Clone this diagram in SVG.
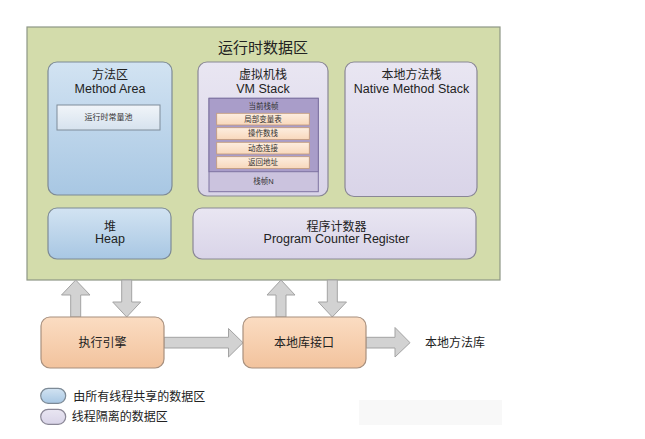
<svg xmlns="http://www.w3.org/2000/svg" width="645" height="439" viewBox="0 0 645 439">
<defs>
<linearGradient id="gBlue" x1="0" y1="0" x2="0" y2="1"><stop offset="0" stop-color="#d2e3f2"/><stop offset="1" stop-color="#a8c7e3"/></linearGradient>
<linearGradient id="gPurple" x1="0" y1="0" x2="0" y2="1"><stop offset="0" stop-color="#e9e6f2"/><stop offset="1" stop-color="#d9d4e8"/></linearGradient>
<linearGradient id="gOrange" x1="0" y1="0" x2="0" y2="1"><stop offset="0" stop-color="#fbdcc2"/><stop offset="1" stop-color="#f2c39d"/></linearGradient>
<linearGradient id="gPool" x1="0" y1="0" x2="0" y2="1"><stop offset="0" stop-color="#f1f5f9"/><stop offset="1" stop-color="#d6e2ee"/></linearGradient>
<linearGradient id="gRow" x1="0" y1="0" x2="0" y2="1"><stop offset="0" stop-color="#fdeee0"/><stop offset="1" stop-color="#f8d8bc"/></linearGradient>
</defs>
<style>
text{font-family:"Liberation Sans","Noto Sans CJK SC",sans-serif;fill:#222;text-anchor:middle}
.cn{font-size:12px;dominant-baseline:central}
.en{font-size:12.5px}
.title{font-size:15px;dominant-baseline:central}
.sm{font-size:7.5px;fill:#333;dominant-baseline:central}
.blue{fill:url(#gBlue);stroke:#7d8a96;stroke-width:1.2}
.purple{fill:url(#gPurple);stroke:#8a8796;stroke-width:1.2}
.orange{fill:url(#gOrange);stroke:#a8907e;stroke-width:1.2}
.arrow{fill:#d2d2d2;stroke:#a3a3a3;stroke-width:1}
.row{fill:url(#gRow);stroke:#c49a78;stroke-width:0.8}
.lg{font-size:12px;text-anchor:start;dominant-baseline:central}
</style>
<rect x="0" y="0" width="645" height="439" fill="#ffffff"/>
<g id="runtime-data-area">
<rect x="27" y="27" width="473" height="253" fill="#d3dcab" stroke="#8e9786" stroke-width="1.2"/>
<text class="title" x="263" y="47">运行时数据区</text>
</g>
<g id="connectors">
<polygon class="arrow" points="75.7,280 90,295 80.7,295 80.7,317 70.7,317 70.7,295 61.5,295"/>
<polygon class="arrow" points="121.7,280 131.7,280 131.7,302 140.7,302 126.7,317 112.7,302 121.7,302"/>
<polygon class="arrow" points="281,280 295,295 286,295 286,317 276,317 276,295 267,295"/>
<polygon class="arrow" points="327.3,280 337.3,280 337.3,302 346.5,302 332.3,317 318.3,302 327.3,302"/>
<polygon class="arrow" points="164,337.3 228.5,337.3 228.5,328.5 243,342.7 228.5,357 228.5,348 164,348"/>
<polygon class="arrow" points="366,337.3 395,337.3 395,327.5 410,342.7 395,357 395,348 366,348"/>
</g>
<g id="method-area">
<rect class="blue" x="48" y="62" width="124" height="133" rx="9"/>
<text class="cn" x="110" y="75.3">方法区</text>
<text class="en" x="110" y="93">Method Area</text>
<rect x="57" y="105" width="103" height="25" fill="url(#gPool)" stroke="#7f8c99" stroke-width="1"/>
<text class="sm" x="108.5" y="117.5" style="font-size:8px">运行时常量池</text>
</g>
<g id="vm-stack">
<rect class="purple" x="198" y="62" width="130" height="134" rx="9"/>
<text class="cn" x="263" y="75.3">虚拟机栈</text>
<text class="en" x="263" y="93">VM Stack</text>
<rect x="209" y="98.3" width="109.3" height="93.4" fill="#cbc3de" stroke="#7d72a0" stroke-width="1"/>
<rect x="209" y="98.3" width="109.3" height="73.4" fill="#a99dc9" stroke="#7d72a0" stroke-width="1"/>
<text class="sm" x="263.5" y="106.7">当前栈帧</text>
<rect class="row" x="216.7" y="113.3" width="92.6" height="11.7"/>
<text class="sm" x="263" y="119.3">局部变量表</text>
<rect class="row" x="216.7" y="127.7" width="92.6" height="11.7"/>
<text class="sm" x="263" y="133.5">操作数栈</text>
<rect class="row" x="216.7" y="142.3" width="92.6" height="11.7"/>
<text class="sm" x="263" y="148">动态连接</text>
<rect class="row" x="216.7" y="156.7" width="92.6" height="11.7"/>
<text class="sm" x="263" y="162.5">返回地址</text>
<text class="sm" x="263.5" y="181.7">栈帧N</text>
</g>
<g id="native-method-stack">
<rect class="purple" x="345" y="62" width="132" height="134.5" rx="9"/>
<text class="cn" x="411.5" y="75.3">本地方法栈</text>
<text class="en" x="411.5" y="93">Native Method Stack</text>
</g>
<g id="heap">
<rect class="blue" x="48" y="208" width="123" height="51" rx="9"/>
<text class="cn" x="110" y="226.5">堆</text>
<text class="en" x="110" y="243.3">Heap</text>
</g>
<g id="program-counter-register">
<rect class="purple" x="193" y="208" width="283" height="51" rx="9"/>
<text class="cn" x="336.5" y="226.5">程序计数器</text>
<text class="en" x="336.5" y="243.3">Program Counter Register</text>
</g>
<g id="execution-engine">
<rect class="orange" x="41" y="317" width="123" height="51" rx="9"/>
<text class="cn" x="102.5" y="342.7">执行引擎</text>
</g>
<g id="native-interface">
<rect class="orange" x="243" y="317" width="123" height="51" rx="9"/>
<text class="cn" x="304" y="342.7">本地库接口</text>
</g>
<g id="native-library">
<text class="lg" x="425" y="342.7">本地方法库</text>
</g>
<g id="legend">
<rect class="blue" x="40.7" y="388.3" width="25" height="15" rx="7.5"/>
<text class="lg" x="73.3" y="396.5">由所有线程共享的数据区</text>
<rect class="purple" x="40.7" y="409.3" width="25" height="15" rx="7.5"/>
<text class="lg" x="71.7" y="416.7">线程隔离的数据区</text>
</g>
<rect x="359" y="400" width="143" height="25" fill="#f8f8f8"/>
</svg>
